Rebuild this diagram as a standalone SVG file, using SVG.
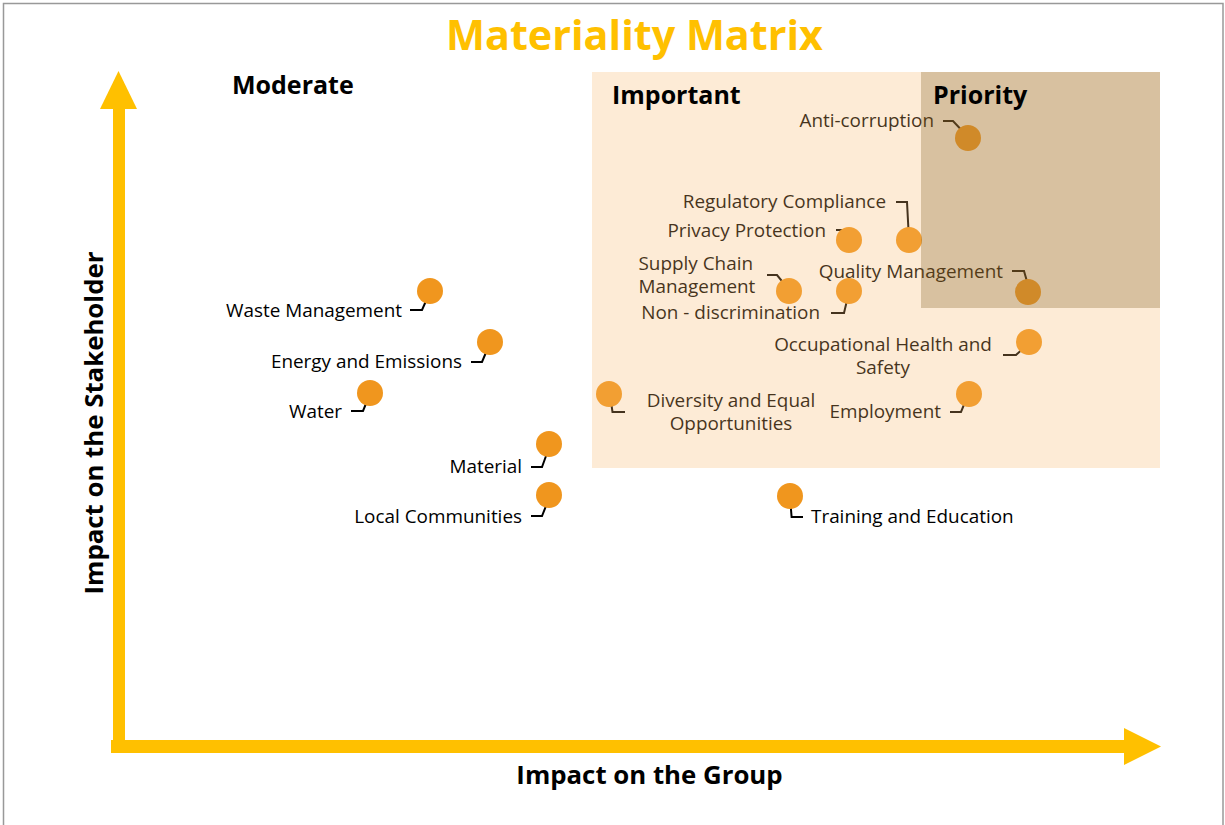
<svg xmlns="http://www.w3.org/2000/svg" width="1225" height="825" viewBox="0 0 1225 825">
<style>
.lbl{font-family:"Open Sans","DejaVu Sans",sans-serif;font-size:18.9px;fill:#000}
.hd{font-family:"Open Sans","DejaVu Sans",sans-serif;font-size:25px;font-weight:bold;fill:#000}
.ax{font-family:"Open Sans","DejaVu Sans",sans-serif;font-size:25.8px;font-weight:bold;fill:#000}
.bub{fill:#F0961E}
.ld{fill:none;stroke:#000;stroke-width:2}
.axis{fill:#FFC000}
</style>
<rect x="0" y="0" width="1225" height="825" fill="#fff"/>
<rect x="3.5" y="3.5" width="1219.5" height="840" fill="none" stroke="#999" stroke-width="1.5"/>
<text x="634.5" y="49.5" text-anchor="middle" style="font-family:'Open Sans','DejaVu Sans',sans-serif;font-size:41.3px;font-weight:bold;fill:#FFC000">Materiality Matrix</text>

<g id="axes">
<rect class="axis" x="113" y="106" width="12" height="647"/>
<polygon class="axis" points="100,109 118.5,71 137,109"/>
<rect class="axis" x="111" y="740" width="1015" height="13"/>
<polygon class="axis" points="1124,728 1161,746.5 1124,765"/>
</g>
<text class="ax" x="649.5" y="784" text-anchor="middle">Impact on the Group</text>
<text class="ax" transform="translate(102.5,423) rotate(-90)" text-anchor="middle">Impact on the Stakeholder</text>

<g id="connectors">
<polyline class="ld" points="410,310 422,310 430,292"/>
<polyline class="ld" points="471,362 482,362 490,343"/>
<polyline class="ld" points="351,411 363,411 370,394"/>
<polyline class="ld" points="531,467 542,467 550,445"/>
<polyline class="ld" points="531,516 542,516 550,496"/>
<polyline class="ld" points="943,121 953,121 968,137"/>
<polyline class="ld" points="896,202 907,202 909,240"/>
<polyline class="ld" points="836,230 848,230 850,240"/>
<polyline class="ld" points="767,275 777,275 790,291"/>
<polyline class="ld" points="849,292 844,313 831,313"/>
<polyline class="ld" points="1012,271 1024,271 1030,292"/>
<polyline class="ld" points="1003,355 1016,355 1029,343"/>
<polyline class="ld" points="610,395 612.5,412 625,412"/>
<polyline class="ld" points="950,412 961,412 968,395"/>
<polyline class="ld" points="790,497 791.6,517 803,517"/>
</g>

<g id="waste"><circle class="bub" cx="430" cy="291" r="13"/><text class="lbl" x="402" y="317" text-anchor="end">Waste Management</text></g>
<g id="energy"><circle class="bub" cx="490" cy="342" r="13"/><text class="lbl" x="462" y="368" text-anchor="end">Energy and Emissions</text></g>
<g id="water"><circle class="bub" cx="370" cy="393" r="13"/><text class="lbl" x="342" y="418" text-anchor="end">Water</text></g>
<g id="material"><circle class="bub" cx="549" cy="444" r="13"/><text class="lbl" x="522" y="473" text-anchor="end">Material</text></g>
<g id="local"><circle class="bub" cx="549" cy="495" r="13"/><text class="lbl" x="522" y="523" text-anchor="end">Local Communities</text></g>
<g id="anticorruption"><circle class="bub" cx="968" cy="138" r="13"/><text class="lbl" x="934" y="127" text-anchor="end">Anti-corruption</text></g>
<g id="regulatory"><circle class="bub" cx="909" cy="240" r="13"/><text class="lbl" x="886" y="208" text-anchor="end">Regulatory Compliance</text></g>
<g id="privacy"><circle class="bub" cx="849" cy="240" r="13"/><text class="lbl" x="826" y="237" text-anchor="end">Privacy Protection</text></g>
<g id="supply"><circle class="bub" cx="789" cy="291" r="13"/><text class="lbl"><tspan x="638.5" y="270">Supply Chain</tspan><tspan x="638.5" y="293">Management</tspan></text></g>
<g id="nondiscrimination"><circle class="bub" cx="849" cy="291" r="13"/><text class="lbl" x="820" y="319" text-anchor="end">Non - discrimination</text></g>
<g id="quality"><circle class="bub" cx="1028" cy="292" r="13"/><text class="lbl" x="1003" y="278" text-anchor="end">Quality Management</text></g>
<g id="ohs"><circle class="bub" cx="1029" cy="342" r="13"/><text class="lbl" text-anchor="middle"><tspan x="883" y="351">Occupational Health and</tspan><tspan x="883" y="374">Safety</tspan></text></g>
<g id="diversity"><circle class="bub" cx="609" cy="394" r="13"/><text class="lbl" text-anchor="middle"><tspan x="731" y="407">Diversity and Equal</tspan><tspan x="731" y="430">Opportunities</tspan></text></g>
<g id="employment"><circle class="bub" cx="969" cy="394" r="13"/><text class="lbl" x="941" y="418" text-anchor="end">Employment</text></g>
<g id="training"><circle class="bub" cx="790" cy="496" r="13"/><text class="lbl" x="811" y="523">Training and Education</text></g>

<g id="zones">
<rect x="592" y="72" width="568" height="396" fill="rgb(248,184,109)" fill-opacity="0.28"/>
<rect x="921" y="72" width="239" height="236" fill="rgb(120,83,15)" fill-opacity="0.27"/>
</g>
<text class="hd" x="232" y="94">Moderate</text>
<text class="hd" x="612" y="104">Important</text>
<text class="hd" x="933" y="104">Priority</text>
</svg>
